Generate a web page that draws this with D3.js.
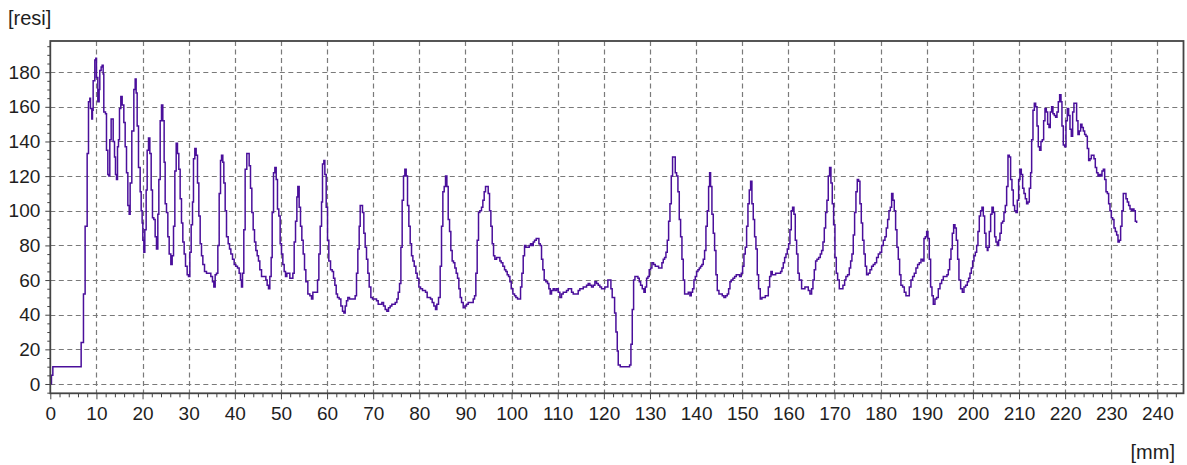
<!DOCTYPE html>
<html>
<head>
<meta charset="utf-8">
<script src="https://cdn.jsdelivr.net/npm/d3@7"></script>
<style>
  html, body { margin: 0; padding: 0; background: #fff; }
  svg text { font-family: "Liberation Sans", Arial, sans-serif; fill: #1e1e1e; }
</style>
</head>
<body>
<svg id="chart" width="1187" height="465"></svg>
<script>
// Drilling resistance profile: depth [mm] vs. resistance [resi]
const depthMm = [
  0, 0.2, 0.25, 0.5, 0.55, 6.47, 6.69, 7.19, 7.55, 7.99, 8.28, 8.57, 8.71, 9.0, 9.14, 9.29, 9.65, 9.87,
  10.01, 10.3, 10.59, 10.73, 11.02, 11.24, 11.46, 11.6, 11.96, 12.18, 12.47, 12.69, 12.9, 13.19, 13.48,
  13.63, 13.92, 14.13, 14.35, 14.57, 14.78, 15.0, 15.29, 15.58, 15.94, 16.23, 16.52, 16.81, 17.1, 17.31,
  17.67, 18.11, 18.4, 18.61, 18.83, 19.12, 19.48, 19.7, 19.91, 20.06, 20.28, 20.49, 20.78, 21.0, 21.29,
  21.58, 21.87, 22.15, 22.44, 22.73, 23.02, 23.31, 23.53, 23.82, 24.11, 24.39, 24.68, 24.9, 25.19, 25.48,
  25.77, 26.13, 26.42, 26.71, 27.0, 27.29, 27.57, 27.86, 28.15, 28.44, 28.73, 29.02, 29.31, 29.67, 29.96,
  30.25, 30.54, 30.83, 31.04, 31.33, 31.62, 31.91, 32.2, 32.49, 32.78, 33.07, 33.43, 33.86, 34.37, 34.8,
  35.16, 35.45, 35.74, 36.03, 36.32, 36.61, 36.9, 37.12, 37.4, 37.62, 37.91, 38.2, 38.56, 38.85, 39.14,
  39.5, 39.86,
  40.22, 40.58, 40.94, 41.23, 41.45, 41.67, 41.95, 42.24, 42.6, 42.89, 43.11, 43.4, 43.69, 43.98, 44.27,
  44.56, 44.85, 45.13, 45.42, 45.79, 46.29, 46.73, 47.01, 47.3, 47.59, 47.88, 48.1, 48.39, 48.68, 48.97,
  49.25, 49.54, 49.83, 50.12, 50.41, 50.7, 50.99, 51.28, 51.64, 51.93, 52.29, 52.58, 52.87, 53.16, 53.45,
  53.66, 53.95, 54.24, 54.53, 54.82, 55.11, 55.4, 55.83, 56.27, 56.63, 56.92, 57.28, 57.64, 57.93, 58.22,
  58.51, 58.8, 59.01, 59.3, 59.52, 59.81, 60.1, 60.38, 60.75, 61.11, 61.4, 61.69, 61.98, 62.26, 62.62,
  62.99, 63.35, 63.64, 63.93, 64.21, 64.5, 64.86, 65.3, 65.73, 66.09, 66.38, 66.67, 66.96, 67.18, 67.47,
  67.68, 67.97, 68.26, 68.55, 68.84, 69.13, 69.49, 69.85, 70.29, 70.72, 71.08, 71.44, 71.88, 72.24, 72.6,
  72.96, 73.32, 73.68, 74.04, 74.41, 74.77, 75.13, 75.42, 75.71, 76.0, 76.28, 76.57, 76.86, 77.15, 77.44,
  77.73, 78.02, 78.31, 78.6, 78.89, 79.25, 79.54, 79.9, 80.26, 80.69,
  80.98, 81.34, 81.7, 82.14, 82.43, 82.79, 83.15, 83.51, 83.8, 84.16, 84.52, 84.81, 85.1, 85.39, 85.68,
  85.97, 86.26, 86.55, 86.83, 87.12, 87.41, 87.7, 87.99, 88.28, 88.57, 88.86, 89.15, 89.51, 89.87, 90.23,
  90.59, 90.95, 91.32, 91.68, 91.97, 92.25, 92.54, 92.83, 93.12, 93.48, 93.77, 94.06, 94.35, 94.64, 94.93,
  95.22, 95.51, 95.8, 96.09, 96.37, 96.74, 97.1, 97.46, 97.75, 98.11, 98.47, 98.76, 99.05, 99.34, 99.63,
  99.92, 100.28, 100.64, 100.93, 101.29, 101.65, 101.94, 102.23, 102.52, 102.81, 103.1, 103.46, 103.82,
  104.11, 104.4, 104.69, 104.98, 105.34, 105.63, 105.92, 106.2, 106.49, 106.78, 107.07, 107.43, 107.79,
  108.08, 108.37, 108.66, 109.02, 109.38, 109.75, 110.11, 110.47, 110.83, 111.19, 111.55, 111.91, 112.28,
  112.64, 113.0, 113.36, 113.72, 114.08, 114.44, 114.8, 115.17, 115.53, 115.89, 116.25, 116.61, 116.97,
  117.33, 117.7, 118.06, 118.42, 118.78, 119.14, 119.5, 119.86, 120.22, 120.87, 121.24, 121.53, 121.81,
  122.33, 122.62, 122.91, 123.12, 123.56, 124.28, 125.0, 125.58, 125.87, 126.16, 126.45, 126.74, 127.1,
  127.39, 127.68, 127.97, 128.33, 128.69, 128.98, 129.27, 129.56, 129.84, 130.13, 130.42, 130.78, 131.15,
  131.51, 131.87, 132.23, 132.59, 132.88, 133.17, 133.46, 133.75, 134.04, 134.33, 134.62, 134.9, 135.19,
  135.48, 135.77, 136.06, 136.35, 136.64, 136.93, 137.22, 137.51, 137.94, 138.3, 138.66, 138.95, 139.24,
  139.53, 139.82, 140.11, 140.4, 140.69, 140.97, 141.26, 141.55, 141.84, 142.13, 142.42, 142.71, 142.93,
  143.14, 143.43, 143.72, 144.01, 144.3, 144.59, 144.95, 145.31, 145.67, 146.03, 146.4, 146.76, 147.05,
  147.34, 147.62, 147.99, 148.35, 148.71, 149.07, 149.43, 149.79, 150.08, 150.37, 150.66, 150.95, 151.24,
  151.53, 151.82, 152.1, 152.39, 152.68, 152.97, 153.26, 153.55, 153.91, 154.27, 154.64, 155.0, 155.36,
  155.65, 155.94, 156.22, 156.51, 156.88, 157.24, 157.6, 157.96, 158.32, 158.61, 158.9, 159.19, 159.48,
  159.77, 160.06, 160.34, 160.63, 160.92, 161.21, 161.5, 161.79, 162.08, 162.37,
  162.87, 163.23, 163.59, 163.96, 164.32, 164.68, 165.04, 165.33, 165.62, 165.91, 166.2, 166.56, 166.92,
  167.21, 167.5, 167.79, 168.08, 168.36, 168.65, 168.94, 169.23, 169.52, 169.81, 170.1, 170.39, 170.68,
  171.04, 171.47, 171.83, 172.2, 172.48, 172.84, 173.21, 173.5, 173.78, 174.07, 174.36, 174.65, 174.94,
  175.23, 175.52, 175.81, 176.1, 176.39, 176.67, 176.96, 177.33, 177.69, 178.05, 178.41, 178.77, 179.13,
  179.5, 179.86, 180.22, 180.58, 180.94, 181.23, 181.52, 181.81, 182.1, 182.39, 182.67, 182.96, 183.25,
  183.54, 183.83, 184.12, 184.4, 184.77, 185.13, 185.49, 185.85, 186.22, 186.58, 186.94, 187.3, 187.66,
  188.02, 188.38, 188.75, 189.11, 189.4, 189.69, 189.98, 190.26, 190.55, 190.84, 191.13, 191.42, 191.78,
  192.14, 192.5, 192.87, 193.23, 193.59, 194.02, 194.38, 194.67, 194.96, 195.25, 195.54, 195.83, 196.12,
  196.41, 196.7, 196.98, 197.35, 197.71, 198.07, 198.43, 198.79, 199.08, 199.37, 199.66, 199.95, 200.24,
  200.53, 200.82, 201.1, 201.39, 201.68, 201.97, 202.26, 202.55, 202.84, 203.13,
  203.27, 203.56, 203.85, 204.14, 204.43, 204.72, 205.0, 205.29, 205.58, 205.87, 206.16, 206.45, 206.74,
  207.03, 207.32, 207.61, 207.9, 208.18, 208.47, 208.76, 209.05, 209.34, 209.63, 209.92, 210.21, 210.5,
  210.79, 211.08, 211.37, 211.65, 211.94, 212.23, 212.52, 212.74, 213.03, 213.32, 213.61, 213.9, 214.18,
  214.47, 214.76, 215.05, 215.34, 215.63, 215.92, 216.21, 216.5, 216.78, 217.07, 217.36, 217.65, 217.94,
  218.23, 218.52, 218.81, 219.1, 219.31, 219.6, 219.89, 220.18, 220.47, 220.76, 221.05, 221.34, 221.63,
  221.91, 222.2, 222.49, 222.78, 223.07, 223.36, 223.65, 223.94, 224.23, 224.52, 224.81, 225.1, 225.39,
  225.68, 225.96, 226.25, 226.54, 226.83, 227.12, 227.41, 227.7, 227.99, 228.28, 228.57, 228.86, 229.15,
  229.43, 229.72, 230.01, 230.3, 230.59, 230.88, 231.17, 231.46, 231.75, 232.03, 232.32, 232.61, 232.9,
  233.19, 233.48, 233.77, 234.06, 234.35, 234.63, 234.92, 235.21, 235.5
];

const resi = [
  0, 0, 5, 5, 10, 10, 24, 52, 91, 133, 163, 165, 159, 153, 158, 175, 187, 188,
  177, 163, 170, 181, 183, 184, 179, 157, 156, 135, 121, 120, 141, 153, 153,
  140, 131, 121, 118, 137, 141, 159, 166, 161, 151, 137, 122, 103, 98, 116,
  146, 170, 176, 168, 149, 125, 111, 100, 93, 83, 76, 89, 112, 135, 142,
  133, 112, 96, 95, 85, 78, 98, 118, 152, 161, 152, 128, 104, 99, 85,
  75, 69, 74, 91, 123, 139, 133, 124, 107, 93, 82, 75, 68, 63, 62,
  76, 92, 105, 130, 136, 132, 116, 97, 81, 74, 69, 65, 64, 64, 62,
  59, 56, 63, 64, 80, 110, 129, 132, 128, 116, 100, 85, 81, 78, 75,
  72, 69,
  68, 67, 64, 60, 56, 64, 89, 124, 133, 133, 126, 113, 99, 89, 82,
  77, 74, 71, 66, 62, 62, 60, 57, 55, 62, 73, 99, 122, 125, 118,
  101, 97, 81, 75, 69, 65, 62, 64, 64, 61, 61, 64, 82, 94, 108,
  114, 102, 91, 83, 75, 66, 59, 52, 51, 49, 53, 53, 53, 60, 75,
  91, 105, 127, 129, 121, 102, 83, 71, 66, 65, 61, 57, 52, 50, 49,
  45, 42, 41, 45, 48, 50, 49, 49, 49, 51, 64, 78, 91, 103, 103,
  99, 87, 79, 72, 64, 56, 50, 49, 49, 48, 46, 46, 47, 45, 43,
  42, 44, 45, 46, 46, 47, 49, 53, 58, 79, 106, 120, 124, 120, 103,
  91, 81, 74, 71, 68, 64, 61, 56, 55, 54,
  54, 53, 50, 50, 49, 47, 45, 43, 46, 50, 68, 91, 111, 114, 120,
  114, 95, 88, 77, 71, 70, 67, 64, 61, 55, 50, 47, 44, 45, 46,
  47, 47, 47, 49, 51, 64, 83, 99, 100, 102, 106, 111, 114, 114, 110,
  100, 91, 81, 74, 72, 73, 73, 71, 70, 68, 66, 65, 63, 62, 59,
  55, 52, 51, 50, 49, 49, 56, 64, 74, 80, 79, 79, 80,
  81, 80, 82, 83, 84, 84, 81, 80, 72, 66, 60, 59, 58,
  55, 52, 54, 55, 54, 55, 53, 50, 52, 53, 53, 54, 55,
  55, 53, 52, 52, 52, 54, 55, 55, 56, 56, 57, 58, 57,
  56, 57, 59, 58, 57, 56, 55, 55, 56, 60, 60, 55, 50,
  41, 30, 19, 11, 10, 10, 10, 11, 23, 43, 60, 62, 62,
  61, 59, 57, 55, 53, 56, 61, 62, 66, 67, 70, 69, 68,
  68, 67, 67, 70, 72, 73, 76, 83, 94, 104, 120, 131, 131,
  122, 120, 111, 95, 85, 72, 60, 52, 52, 53, 51, 53, 55,
  60, 62, 65, 66, 67, 68, 69, 72, 77, 91, 100, 114, 122,
  114, 98, 87, 77, 63, 54, 52, 52, 51, 50, 51, 52, 55,
  59, 60, 61, 62, 63, 63, 62, 64, 68, 75, 79, 91, 104,
  112, 117, 104, 95, 85, 78, 63, 55, 49, 50, 50, 51, 51,
  56, 62, 65, 63, 63, 64, 64, 64, 65, 67, 70, 73, 75,
  78, 81, 89, 100, 102, 98, 83, 75, 64, 60,
  55, 55, 56, 56, 54, 52, 55, 60, 66, 71, 72, 73, 75,
  77, 82, 90, 99, 106, 120, 125, 116, 104, 92, 73, 64, 60,
  55, 55, 57, 60, 62, 63, 67, 71, 75, 86, 99, 111, 118,
  117, 104, 93, 83, 75, 68, 63, 64, 66, 68, 69, 70, 73,
  75, 76, 80, 83, 85, 90, 95, 100, 102, 110, 106, 100, 89,
  79, 72, 63, 57, 56, 53, 51, 51, 56, 60, 62, 64, 67,
  69, 70, 72, 71, 84, 85, 88, 84, 72, 56, 51, 46, 49,
  50, 55, 58, 60, 62, 62, 63, 66, 72, 78, 87, 92, 90,
  83, 72, 60, 55, 53, 56, 57, 59, 61, 64, 67, 71, 74,
  76, 80, 88, 97, 100, 102, 97, 87, 79, 77,
  79, 88, 98, 102, 99, 85, 82, 80, 83, 87, 93, 94, 99,
  103, 114, 132, 131, 118, 112, 103, 100, 99, 106, 118, 124, 121,
  113, 110, 107, 104, 105, 113, 122, 141, 158, 162, 160, 149, 137,
  135, 140, 141, 152, 159, 157, 150, 148, 157, 160, 156, 155, 154,
  157, 163, 167, 163, 149, 138, 137, 152, 159, 155, 147, 143, 157,
  162, 162, 152, 144, 146, 150, 148, 146, 144, 143, 136, 129, 130,
  132, 132, 130, 125, 122, 120, 121, 120, 123, 124, 118, 111, 110,
  104, 100, 96, 95, 90, 88, 86, 82, 83, 91, 100, 110, 110,
  107, 105, 103, 101, 100, 101, 100, 94, 93
];

const xMajorTicks = d3.range(0, 241, 10);
const xMinorTicks = d3.range(0, 245, 2);
const yMajorTicks = d3.range(0, 181, 20);
const yMinorTicks = d3.range(-5, 196, 5);
const yUnitLabel = "[resi]";
const xUnitLabel = "[mm]";

const svg = d3.select("#chart");
const plot = { left: 50.3, right: 1183.5, top: 41, bottom: 393.3 };

const x = d3.scaleLinear().domain([0, 245.66]).range([plot.left, plot.right]);
const y = d3.scaleLinear().domain([-5.37, 198]).range([plot.bottom, plot.top]);

// grid
const grid = svg.append("g").attr("stroke", "#7a7a7a").attr("stroke-width", 1.2)
  .attr("stroke-dasharray", "5,3.5").attr("fill", "none");
grid.selectAll("line.v").data(xMajorTicks.filter(d => d > 0)).join("line")
  .attr("class", "v")
  .attr("x1", d => Math.round(x(d)) + 0.5).attr("x2", d => Math.round(x(d)) + 0.5)
  .attr("y1", plot.top).attr("y2", plot.bottom);
grid.selectAll("line.h").data(yMajorTicks).join("line")
  .attr("class", "h")
  .attr("y1", d => Math.round(y(d)) + 0.5).attr("y2", d => Math.round(y(d)) + 0.5)
  .attr("x1", plot.left).attr("x2", plot.right);

// resistance trace
const pts = depthMm.map((d, i) => [d, resi[i]]);
const line = d3.line().x(d => x(d[0])).y(d => y(d[1])).curve(d3.curveStepAfter);
svg.append("path").datum(pts)
  .attr("d", line)
  .attr("fill", "none")
  .attr("stroke", "#4a0f9b")
  .attr("stroke-width", 1.5)
  .attr("stroke-linejoin", "miter");

// frame
svg.append("rect")
  .attr("x", plot.left).attr("y", plot.top)
  .attr("width", plot.right - plot.left).attr("height", plot.bottom - plot.top)
  .attr("fill", "none").attr("stroke", "#444").attr("stroke-width", 1.8);

// x axis
const xAxis = d3.axisBottom(x).tickValues(xMajorTicks).tickSize(6).tickPadding(7).tickFormat(d3.format("d"));
const gx = svg.append("g").attr("transform", `translate(0,${plot.bottom})`).call(xAxis);
gx.select(".domain").remove();
gx.selectAll(".tick line").attr("stroke", "#444");
gx.selectAll(".tick text").attr("font-size", 19).attr("fill", "#1e1e1e")
  .attr("font-family", "Liberation Sans, Arial, sans-serif");
const gxm = svg.append("g").attr("transform", `translate(0,${plot.bottom})`)
  .call(d3.axisBottom(x).tickValues(xMinorTicks.filter(d => d % 10 !== 0)).tickSize(4).tickFormat(""));
gxm.select(".domain").remove();
gxm.selectAll(".tick line").attr("stroke", "#444");

// y axis
const yAxis = d3.axisLeft(y).tickValues(yMajorTicks).tickSize(5).tickPadding(5).tickFormat(d3.format("d"));
const gy = svg.append("g").attr("transform", `translate(${plot.left},0)`).call(yAxis);
gy.select(".domain").remove();
gy.selectAll(".tick line").attr("stroke", "#444");
gy.selectAll(".tick text").attr("font-size", 19).attr("fill", "#1e1e1e")
  .attr("font-family", "Liberation Sans, Arial, sans-serif");
const gym = svg.append("g").attr("transform", `translate(${plot.left},0)`)
  .call(d3.axisLeft(y).tickValues(yMinorTicks.filter(d => d % 20 !== 0)).tickSize(3).tickFormat(""));
gym.select(".domain").remove();
gym.selectAll(".tick line").attr("stroke", "#444");

// unit labels
svg.append("text").attr("x", 8).attr("y", 25).attr("font-size", 20).text(yUnitLabel);
svg.append("text").attr("x", 1175).attr("y", 459).attr("text-anchor", "end").attr("font-size", 20).text(xUnitLabel);
</script>
</body>
</html>
